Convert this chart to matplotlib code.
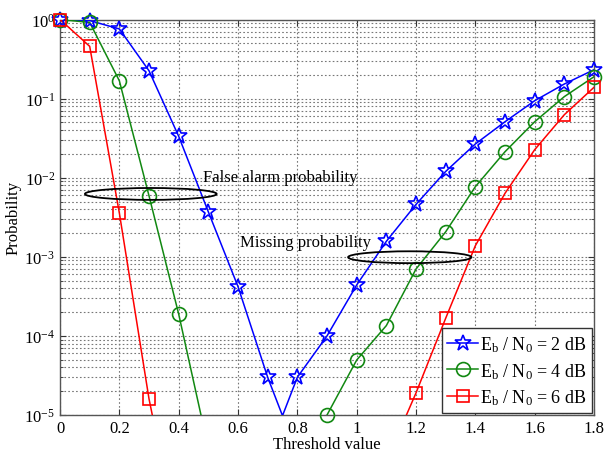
import numpy as np
import matplotlib
matplotlib.use("Agg")
import matplotlib.pyplot as plt
from matplotlib.lines import Line2D
from matplotlib.patches import Ellipse
from matplotlib.ticker import LogLocator, FixedLocator

plt.rcParams['font.family'] = ['Liberation Serif', 'DejaVu Serif']
plt.rcParams['mathtext.fontset'] = 'custom'
plt.rcParams['mathtext.rm'] = 'Liberation Serif'
plt.rcParams['mathtext.it'] = 'Liberation Serif:italic'
plt.rcParams['mathtext.default'] = 'regular'

nan = np.nan
# Threshold values
x_blue = [0.0, 0.1, 0.2, 0.3, 0.4, 0.5, 0.6, 0.7, 0.75, 0.8, 0.9, 1.0, 1.1, 1.2, 1.3, 1.4, 1.5, 1.6, 1.7, 1.8]
p_2db = [1.0, 0.97, 0.76, 0.225, 0.0334, 0.0037, 4.2e-4, 3.0e-5, 0.98e-5, 3.0e-5, 1.0e-4, 4.4e-4, 1.57e-3,
         4.6e-3, 0.0120, 0.0267, 0.051, 0.094, 0.153, 0.232]

x_grid = [0.0, 0.1, 0.2, 0.3, 0.4, 0.5, 0.6, 0.7, 0.8, 0.9, 1.0, 1.1, 1.2, 1.3, 1.4, 1.5, 1.6, 1.7, 1.8]
p_4db = [1.0, 0.92, 0.168, 0.0059, 1.89e-4, 3.8e-6, nan, nan, nan, 1.0e-5, 4.95e-5, 1.35e-4, 7.0e-4,
         2.07e-3, 7.7e-3, 0.0213, 0.051, 0.106, 0.189]
p_6db = [1.0, 0.458, 3.58e-3, 1.6e-5, 2.3e-7, nan, nan, nan, nan, nan, nan, 2.6e-6, 1.9e-5,
         1.67e-4, 1.38e-3, 6.35e-3, 0.0226, 0.0626, 0.139]

labels = [r'E$_\mathregular{b}$ / N$_\mathregular{0}$ = 2 dB',
          r'E$_\mathregular{b}$ / N$_\mathregular{0}$ = 4 dB',
          r'E$_\mathregular{b}$ / N$_\mathregular{0}$ = 6 dB']
colors = ['#0000ff', '#118811', '#ff0000']
markers = ['*', 'o', 's']
msizes = [12, 10, 8.5]

fig = plt.figure(figsize=(6.05, 4.52), dpi=100)
ax = fig.add_axes([0.0992, 0.0796, 0.8826, 0.875])

ymin, ymax = 1e-5, 1.0
handles = []
for xs, ys, c, m, ms, lab in zip([x_blue, x_grid, x_grid], [p_2db, p_4db, p_6db], colors, markers, msizes, labels):
    xs = np.array(xs); ys = np.array(ys, dtype=float)
    ax.plot(xs, ys, color=c, lw=1.1, zorder=3)
    vis = (ys >= ymin * 0.999) & ~np.isnan(ys)
    ax.plot(xs[vis], ys[vis], ls='none', marker=m, ms=ms, mfc='none', mec=c, mew=1.2,
            clip_on=False, zorder=4)
    handles.append(Line2D([], [], color=c, lw=1.1, marker=m, ms=ms, mfc='none', mec=c, mew=1.2, label=lab))

ax.set_yscale('log')
ax.set_xlim(0, 1.8)
ax.set_ylim(ymin, ymax)
ax.xaxis.set_major_locator(FixedLocator([0, 0.2, 0.4, 0.6, 0.8, 1.0, 1.2, 1.4, 1.6, 1.8]))
ax.set_xticklabels(['0', '0.2', '0.4', '0.6', '0.8', '1', '1.2', '1.4', '1.6', '1.8'])
ax.yaxis.set_major_locator(LogLocator(base=10, numticks=10))
ax.yaxis.set_minor_locator(LogLocator(base=10, subs=np.arange(2, 10), numticks=20))

ax.grid(True, which='major', ls=(0, (1.5, 2)), color='#777777', lw=0.8)
ax.grid(True, which='minor', axis='y', ls=(0, (1.5, 2)), color='#777777', lw=0.8)
ax.tick_params(which='both', direction='in', top=True, right=True, labelsize=12, colors='#333333',
               labelcolor='black')
ax.tick_params(which='major', length=4)
ax.tick_params(which='minor', length=2)
for s in ax.spines.values():
    s.set_color('#555555')
    s.set_linewidth(1.0)

ax.set_xlabel('Threshold value', fontsize=12, labelpad=0)
ax.set_ylabel('Probability', fontsize=12, labelpad=2)

ax.add_patch(Ellipse((0.170, 0.559), 0.2466, 0.030, transform=ax.transAxes, fill=False,
                     ec='black', lw=1.3, zorder=5))
ax.add_patch(Ellipse((0.655, 0.399), 0.231, 0.030, transform=ax.transAxes, fill=False,
                     ec='black', lw=1.3, zorder=5))
ax.text((203 - 60) / 534, (416 - 178) / 395.5, 'False alarm probability', transform=ax.transAxes,
        fontsize=12, va='center', ha='left', zorder=6)
ax.text((240 - 60) / 534, (416 - 243) / 395.5, 'Missing probability', transform=ax.transAxes,
        fontsize=12, va='center', ha='left', zorder=6)

leg = ax.legend(handles=handles, loc='lower right', fontsize=13, frameon=True, fancybox=False,
                borderaxespad=0.12, handlelength=1.7, handletextpad=0.1, borderpad=0.3,
                labelspacing=0.4, framealpha=1)
leg.get_frame().set_edgecolor('#333333')
leg.get_frame().set_linewidth(1.0)

fig.savefig('out.png', dpi=100)
